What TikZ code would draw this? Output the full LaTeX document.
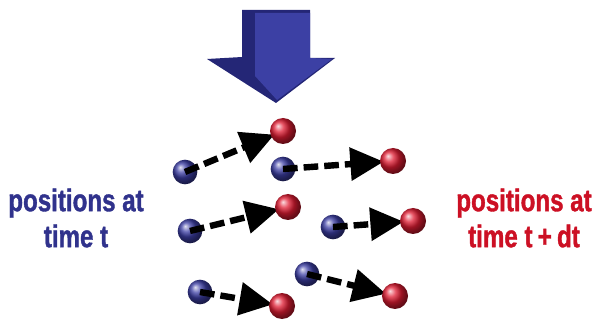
\documentclass[tikz,border=0pt]{standalone}
\usepackage{fontspec}
\newfontfamily\labelfont[FakeStretch=0.77,FakeBold=1.2]{Liberation Sans}
\usetikzlibrary{arrows.meta}
\pgfdeclarelayer{front}
\pgfsetlayers{main,front}
\definecolor{navy}{RGB}{48,50,140}
\definecolor{arrowdark}{RGB}{36,38,118}
\definecolor{arrowface}{RGB}{60,64,164}
\definecolor{darkred}{RGB}{204,16,36}
\definecolor{ballblue}{RGB}{60,62,165}
\definecolor{ballred}{RGB}{224,28,50}
\tikzset{
  atom/.style={circle,inner sep=0pt,minimum size=#1,shading=ball},
  before/.style={atom=18.5pt,ball color=ballblue},
  after/.style={atom=19.5pt,ball color=ballred},
  move/.style={line width=4.8pt,dash pattern=on 11pt off 4.5pt,
    -{Triangle[length=25pt,width=24pt]},shorten >=7pt},
  caption/.style={font=\labelfont\bfseries\fontsize{23.5}{27}\selectfont,
    align=center,inner sep=0pt}
}
\begin{document}
\begin{tikzpicture}[x=0.75pt,y=-0.75pt]
\useasboundingbox (0,0) rectangle (596,320);
% block arrow pointing down
\fill[arrowdark] (242,10) -- (310,10) -- (310,58) -- (335,58) -- (276,103)
  -- (207,59) -- (242,57) -- cycle;
\fill[arrowface] (255,13) -- (310,13) -- (310,58) -- (332,59) -- (277,100)
  -- (255,76) -- cycle;
% atoms at time t
\node[before] (b1) at (185,172) {};
\node[before] (b2) at (283,169) {};
\node[before] (b3) at (190,231) {};
\node[before] (b4) at (333,227) {};
\node[before] (b5) at (200,292) {};
\node[before] (b6) at (307,274) {};
% atoms at time t+dt, kept above the arrow tips
\begin{pgfonlayer}{front}
\node[after] (r1) at (283,131) {};
\node[after] (r2) at (393,161) {};
\node[after] (r3) at (288,207) {};
\node[after] (r4) at (413,221) {};
\node[after] (r5) at (282,306) {};
\node[after] (r6) at (395,296) {};
\end{pgfonlayer}
% displacements
\foreach \i in {1,...,6}
  \draw[move] (b\i.center) -- (r\i.center);
% labels
\node[caption,text=navy] (lt) at (76,218) {positions at\\time t};
\node[caption,text=darkred] (lr) at (524,218) {positions at\\time t\,+\,dt};
\end{tikzpicture}
\end{document}
